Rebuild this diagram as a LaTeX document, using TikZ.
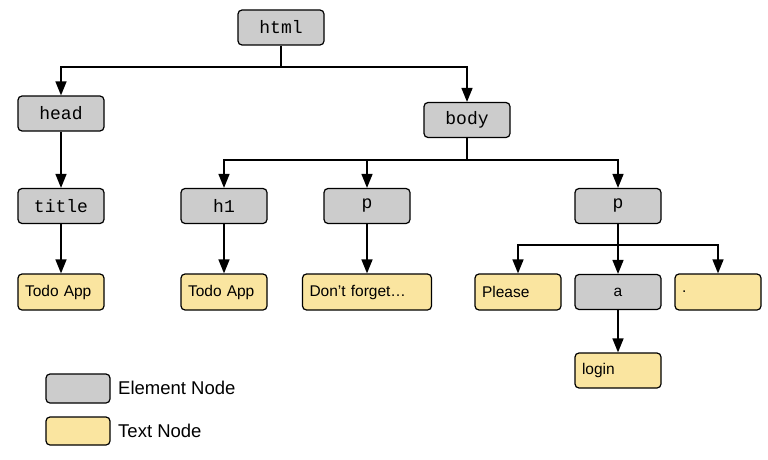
\documentclass[tikz,border=0pt]{standalone}
\usepackage{fontspec}
\setmainfont{Liberation Sans}
\setmonofont{Liberation Mono}
\usepackage{xcolor}
\usepackage{tikz}
\usetikzlibrary{arrows.meta}

\definecolor{elemgray}{RGB}{204,204,204}
\definecolor{textyellow}{RGB}{250,229,160}

\begin{document}
\begin{tikzpicture}[x=1pt, y=-1pt, every node/.style={
    rectangle,
    inner sep=7pt,
  },
  elem/.style={draw, line width=1.2pt, rounded corners=4pt, fill=elemgray,
    minimum width=86pt, minimum height=35pt, font=\ttfamily\fontsize{18}{20}\selectfont},
  txt/.style={draw, line width=1.2pt, rounded corners=4pt, fill=textyellow,
    minimum height=36pt, text width=72pt, align=left, font=\fontsize{15.5}{18}\selectfont},
  link/.style={line width=1.5pt, -{Triangle[length=14pt, width=11pt]}}]

  \useasboundingbox (0,0) rectangle (768,460);

  \node[elem] (n0) at (281,27.5) {html};
  \node[elem] (n1) at (61,113.5) {head};
  \node[elem] (n2) at (467,120) {body};
  \node[elem, below of=n1, node distance=92.5pt] (n3) {title};
  \node[elem] (n4) at (224,206) {h1};
  \node[elem] (n5) at (367,206) {p};
  \node[elem] (n6) at (618,206) {p};

  \node[txt, below of=n3, node distance=86pt] (n7) {Todo App};
  \node[txt, below of=n4, node distance=86pt] (n8) {Todo App};
  \node[txt, below of=n5, node distance=86pt, text width=115pt] (n9) {Don’t forget…};
  \node[txt] (n10) at (518,292) {Please};
  \node[elem, below of=n6, node distance=86pt, font=\fontsize{15.5}{18}\selectfont] (n11) {a};
  \node[txt] (n12) at (718,292) {.};
  \node[txt, below of=n11, node distance=78.5pt, minimum height=35pt] (n13) {login};

  \coordinate (b0) at (281,67);
  \coordinate (b1) at (467,160);
  \coordinate (b2) at (618,245);

  \draw[line width=1.5pt] (n0) -- (b0);
  \draw[link] (b0) -| (n1);
  \draw[link] (b0) -| (n2);
  \draw[link] (n1) -- (n3);
  \draw[link] (n3) -- (n7);

  \draw[line width=1.5pt] (n2) -- (b1);
  \draw[link] (b1) -| (n4);
  \draw[link] (b1) -| (n5);
  \draw[link] (b1) -| (n6);
  \draw[link] (n4) -- (n8);
  \draw[link] (n5) -- (n9);

  \draw[line width=1.5pt] (n6) -- (b2);
  \draw[link] (b2) -| (n10);
  \draw[link] (b2) -- (n11);
  \draw[link] (b2) -| (n12);
  \draw[link] (n11) -- (n13);

  % legend
  \node[elem, minimum width=64pt, minimum height=29pt] (l0) at (78,388.5) {};
  \node[txt, text width={}, minimum width=64pt, minimum height=28pt] (l1) at (78,431) {};
  \node[right, inner sep=0pt, font=\fontsize{18.5}{22}\selectfont] (l2) at (118,388) {Element Node};
  \node[right, inner sep=0pt, font=\fontsize{18.5}{22}\selectfont] (l3) at (118,431) {Text Node};

\end{tikzpicture}
\end{document}
